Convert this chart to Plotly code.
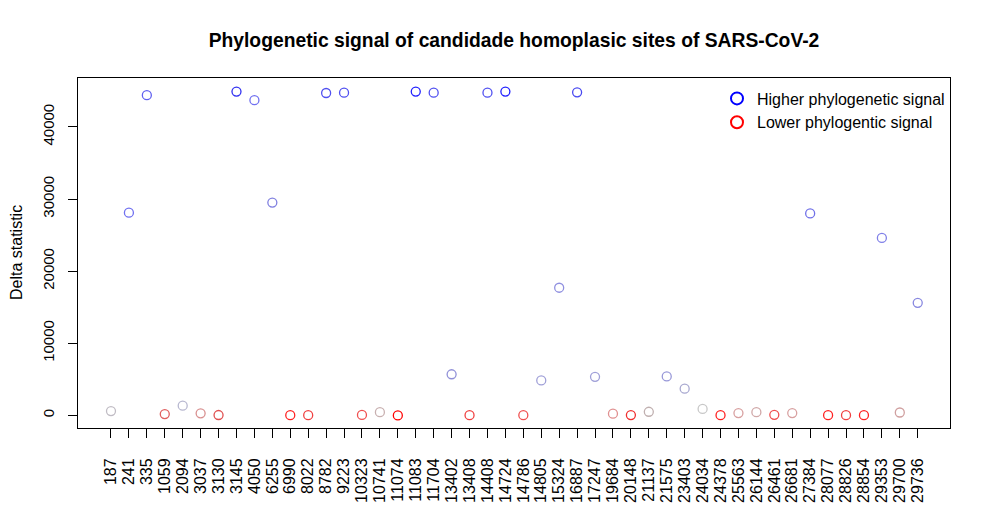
import plotly.graph_objects as go

sites = ["187","241","335","1059","2094","3037","3130","3145","4050","6255","6990","8022",
         "8782","9223","10323","10741","11074","11083","11704","13402","13408","14408","14724",
         "14786","14805","15324","16887","17247","19684","20148","21137","21575","23403",
         "24034","24378","25563","26144","26461","26681","27384","28077","28826","28854",
         "29353","29700","29736"]
delta = [600, 28100, 44400, 180, 1340, 280, 50, 44900, 43700, 29500, 30, 30,
         44700, 44750, 60, 450, 0, 44900, 44750, 5700, 30, 44750, 44900,
         30, 4850, 17700, 44800, 5350, 230, 40, 500, 5400, 3700,
         900, 30, 320, 450, 80, 320, 28000, 30, 30, 30,
         24600, 400, 15600]
point_colors = ["#c0bcc4","#7070f0","#6060f0","#e06060","#b8b8d0","#d89090","#e05050","#3030f0",
                "#7070f0","#8080e0","#ff2020","#f04040","#5050f0","#5050f0","#f05050","#c8b0b0",
                "#ff0000","#2020ff","#5050f0","#9090d8","#f04040","#5050f0","#2020ff","#f05050",
                "#a0a0d8","#9090e0","#4848f0","#a0a0d8","#e09090","#f03030","#c0b0b0","#9898d8",
                "#a8a8d0","#c8c8c8","#ff2020","#d8a0a0","#d0a8a8","#f05050","#d8a0a0","#7070e8",
                "#ff2020","#f04040","#ff2020","#8080e8","#d0a0a0","#8888e0"]
legend_names = ["Higher phylogenetic signal", "Lower phylogentic signal"]
legend_colors = ["#0000ff", "#ff0000"]
yticks = [0, 10000, 20000, 30000, 40000]

xpos = list(range(1, len(sites) + 1))
FONT = "Liberation Sans, Arial, sans-serif"
W, H = 983, 519  # page body has an 8px margin

fig = go.Figure()
fig.add_trace(go.Scatter(
    x=xpos, y=delta, mode="markers", showlegend=False,
    marker=dict(symbol="circle-open", size=9, color=point_colors, line=dict(width=1.3)),
))
for name, col in zip(legend_names, legend_colors):
    fig.add_trace(go.Scatter(
        x=[None], y=[None], mode="markers", name=name,
        marker=dict(symbol="circle-open", size=8, color=col, line=dict(width=1.2)),
    ))

fig.update_layout(
    width=W, height=H,
    margin=dict(l=70, r=41, t=70, b=99),
    paper_bgcolor="white", plot_bgcolor="white",
    font=dict(family=FONT, size=15, color="black"),
    title=dict(text="<b>Phylogenetic signal of candidade homoplasic sites of SARS-CoV-2</b>",
               x=(514 - 8) / W, xanchor="center", y=1 - 32 / H, yanchor="middle",
               font=dict(size=19.3, family=FONT)),
    legend=dict(x=1.0, xanchor="right", y=0.99, yanchor="top",
                bgcolor="white", font=dict(size=16, family=FONT),
                itemsizing="constant", tracegroupgap=0),
    showlegend=True,
    annotations=[dict(text="Delta statistic", xref="paper", yref="paper",
                      x=(16 - 78) / 872, y=0.5, xanchor="center", yanchor="middle",
                      textangle=-90, showarrow=False, font=dict(size=16, family=FONT))],
)
fig.update_xaxes(
    range=[-0.84, 47.8], tickmode="array", tickvals=xpos, ticktext=sites,
    tickangle=-90, ticks="outside", ticklen=9, tickcolor="black",
    showline=True, linecolor="black", linewidth=1, mirror=True, automargin=False,
    showgrid=False, zeroline=False, tickfont=dict(size=16, family=FONT),
    ticklabelstandoff=14,
)
fig.update_yaxes(
    range=[-1750, 46780], tickmode="array", tickvals=yticks,
    ticktext=[str(v) for v in yticks], tickangle=-90,
    ticks="outside", ticklen=9, tickcolor="black",
    showline=True, linecolor="black", linewidth=1, mirror=True, automargin=False,
    showgrid=False, zeroline=False, tickfont=dict(size=15, family=FONT),
    ticklabelstandoff=8,
)

fig.write_html("out.html")
